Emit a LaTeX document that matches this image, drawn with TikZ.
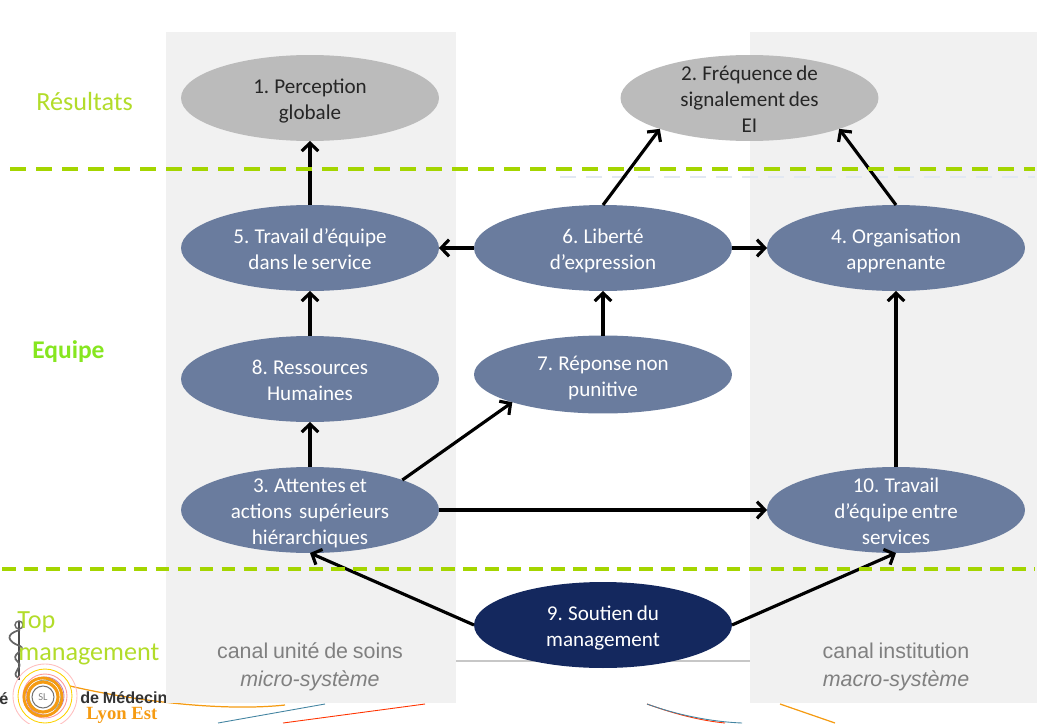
\documentclass[tikz,border=0pt]{standalone}
\usepackage{fontspec}
\setmainfont{Carlito}[WordSpace=0.75]
\newfontfamily\canalfont{Liberation Sans}[WordSpace=0.8]
\newfontfamily\serifbold{Liberation Serif}
\usetikzlibrary{shapes.geometric,arrows.meta}

\definecolor{panelgray}{HTML}{F1F1F1}
\definecolor{unitblue}{HTML}{6A7C9E}
\definecolor{topnavy}{HTML}{14285E}
\definecolor{outgray}{HTML}{BBBBBB}
\definecolor{dashgreen}{HTML}{A4D500}
\definecolor{headgreen}{HTML}{B2DC2A}
\definecolor{teamgreen}{HTML}{86E620}
\definecolor{logoorange}{HTML}{F59B12}
\definecolor{ghostblue}{HTML}{E2E8F2}

% keeps the text from growing the ellipse
\newcommand{\ovaltext}[1]{\raisebox{-5pt}[0pt][0pt]{\begin{tabular}{@{}c@{}}#1\end{tabular}}}

\tikzset{
    oval/.style={ellipse,minimum width=5.16cm,minimum height=1.72cm,inner sep=0pt,outer sep=0pt,
        font=\fontsize{12}{14.8}\selectfont},
    outcome/.style={oval,fill=outgray,text=black!85},
    unit/.style={oval,fill=unitblue,text=white},
    topunit/.style={oval,fill=topnavy,text=white},
    link/.style={line width=1.8pt,-{Straight Barb[length=4.5pt,width=9.5pt]}},
    levelname/.style={anchor=west,inner sep=0pt,text=headgreen,font=\fontsize{14.9}{16}\selectfont},
    logotext/.style={anchor=west,inner sep=0pt,text=black!80,font=\canalfont\bfseries\fontsize{9.2}{11}\selectfont},
    canal/.style={font=\canalfont\fontsize{12.2}{15.6}\selectfont,text=black!50,align=center},
    panel/.style={fill=panelgray,draw=none},
    greendash/.style={dashgreen,line width=2.2pt},
}

\begin{document}
\begin{tikzpicture}[x=.02cm,y=-.02cm]

    \useasboundingbox (0,0) rectangle (1047,723);

    % Logo and its swirl lines, under the panels
    \draw[logoorange,line width=.7pt] (70,686) .. controls (130,700) and (220,712) .. (285,705);
    \draw[cyan!60!black,line width=.5pt] (218,723) -- (325,704);
    \draw[red!60!orange,line width=.5pt] (283,723) -- (425,704);
    \draw[red!60!orange,line width=.5pt] (647,704) .. controls (680,716) and (705,721) .. (725,723);
    \draw[cyan!60!black,line width=.5pt] (647,704) .. controls (680,716) and (715,722) .. (742,723);
    \draw[logoorange,line width=.7pt] (780,704) -- (835,723);

    \draw[black!70,line width=.6pt] (19,622) -- (19,680);
    \draw[black!60,line width=.8pt] (19,625) circle (4);
    \draw[black!60,line width=1pt] (20,630) .. controls (4,634) and (8,642) .. (20,646)
        .. controls (28,650) and (8,654) .. (18,662) .. controls (24,668) and (10,672) .. (18,678);

    \foreach \r/\c in {32/pink,27/yellow!70!orange,22/red!40,19/violet!50,16/cyan!40!gray}
        \draw[\c,line width=.5pt] (45,696) circle (\r);
    \draw[logoorange,line width=1.6pt] (43,697) circle (19);
    \draw[logoorange,line width=1.8pt] (43,697) circle (15);
    \draw[black!55,line width=.6pt] (43,697) circle (11);
    \node[text=black!50,font=\fontsize{6}{6}\selectfont] (logomark) at (43,697) {SL};

    \begin{scope}
        \clip (0,680) rectangle (165,710);
        \node[logotext] (faculty) at (80,698) {de Médecine};
        \node[logotext] (facultyend) at (-1,699) {é};
    \end{scope}
    \node[logotext,text=logoorange,font=\serifbold\bfseries\fontsize{10.6}{12}\selectfont] (lyon) at (86,715) {Lyon Est};

    % The two channels
    \fill[panel] (166,32) rectangle (456,703);
    \fill[panel] (750,32) rectangle (1037,703);
    \draw[black!22,line width=.7pt] (456,661) -- (750,661);
    \draw[ghostblue,line width=.8pt,dash pattern=on 9pt off 5.8pt] (560,177) -- (1035,177);

    \node[canal] (canalunit) at (310,667) {canal unité de soins\\\itshape micro-système};
    \node[canal] (canalinst) at (896,667) {canal institution\\\itshape macro-système};

    % Level names
    \node[levelname] (results) at (36,102) {Résultats};
    \node[levelname,text=teamgreen,font=\bfseries\fontsize{14.5}{16}\selectfont] (team) at (32,352) {Equipe};
    \node[levelname] (topword) at (17,622) {Top};
    \node[levelname] (mgmtword) at (18,654) {management};

    % Outcomes
    \node[outcome] (n1) at (310,98) {\ovaltext{1. Perception\\globale}};
    \node[outcome] (n2) at (749.5,98) {\ovaltext{2. Fréquence de\\signalement des\\EI}};

    % Team level
    \node[unit] (n5) at (310,248) {\ovaltext{5. Travail d’équipe\\dans le service}};
    \node[unit] (n6) at (603,248) {\ovaltext{6. Liberté\\d’expression}};
    \node[unit] (n4) at (896,248) {\ovaltext{4. Organisation\\apprenante}};
    \node[unit] (n8) at (310,379) {\ovaltext{8. Ressources\\Humaines}};
    \node[unit,minimum height=1.56cm] (n7) at (603,374.5) {\ovaltext{7. Réponse non\\punitive}};
    \node[unit] (n3) at (310,510) {\ovaltext{3. Attentes et\\actions\ \ supérieurs\\hiérarchiques}};
    \node[unit] (n10) at (896,510) {\ovaltext{10. Travail\\d’équipe entre\\services}};

    % Top management
    \node[topunit] (n9) at (603,625) {\ovaltext{9. Soutien du\\management}};

    % Links between the dimensions
    \draw[link] (n5) -- (n1);
    \draw[link] (n6.north) -- (n2.199);
    \draw[link] (n4.north) -- (n2.341);
    \draw[link] (n6) -- (n5);
    \draw[link] (n6) -- (n4);
    \draw[link] (n7.north) -- (n6.south);
    \draw[link] (n8) -- (n5);
    \draw[link] (n3) -- (n8);
    \draw[link] (n3.18) -- (n7.197);
    \draw[link] (n3) -- (n10);
    \draw[link] (n10) -- (n4);
    \draw[link] (n9.west) -- (n3.south);
    \draw[link] (n9.east) -- (n10.south);

    % Level separators
    \draw[greendash,dash pattern=on 9pt off 5.8pt] (10,169) -- (1035,169);
    \draw[greendash,dash pattern=on 7.8pt off 4.7pt] (2,569) -- (1035,569);

\end{tikzpicture}
\end{document}
